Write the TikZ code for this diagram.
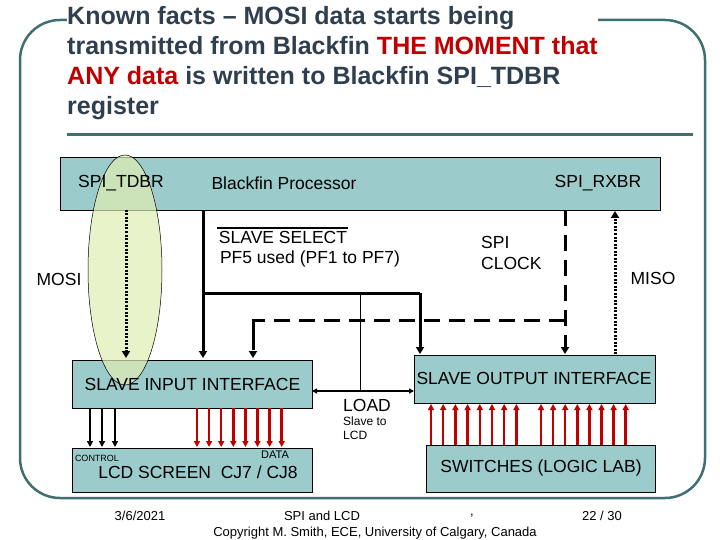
\documentclass[tikz,border=0pt]{standalone}
\usepackage{fontspec}
\setmainfont{Liberation Sans}
\usetikzlibrary{arrows.meta,shapes.geometric}
\definecolor{boxc}{HTML}{9CCBCB}
\definecolor{frm}{HTML}{3F6F6F}
\definecolor{ttl}{HTML}{2F3F4F}
\definecolor{rd}{HTML}{C00000}
\definecolor{ellc}{HTML}{E1EEB4}
\begin{document}
\begin{tikzpicture}[x=1pt,y=-1pt,
  box/.style={draw=black,fill=boxc,line width=0.8pt},
  lbl/.style={font=\fontsize{17.5}{21}\selectfont,inner sep=0pt},
  sml/.style={font=\fontsize{12}{14}\selectfont,inner sep=0pt},
  dot/.style={line width=3pt,dash pattern=on 2pt off 1.5pt,-{Triangle[length=7pt,width=8pt]}},
  sol/.style={line width=3pt},
  dsh/.style={line width=3pt,dash pattern=on 16pt off 9pt},
  tip/.style={-{Triangle[length=7pt,width=8pt]}},
  rarr/.style={draw=rd,line width=2.5pt,-{Triangle[length=6pt,width=6pt]}},
  barr/.style={draw=black,line width=2.5pt,-{Triangle[length=6pt,width=6pt]}}]
\useasboundingbox (0,0) rectangle (720,540);
\fill[white] (0,0) rectangle (720,540);
% slide frame
\draw[frm,line width=2.5pt,rounded corners=40pt] (20,20) rectangle (705,498);
\draw[frm,line width=3pt] (67,135) -- (693,135);
% title
\node[anchor=north west,align=left,inner sep=0pt,text=ttl,fill=white,font=\fontsize{25}{30}\selectfont\bfseries] (title) at (67,6)
 {Known facts -- MOSI data starts being\\transmitted from Blackfin {\color{rd}THE MOMENT that}\\{\color{rd}ANY data} is written to Blackfin SPI\_TDBR\\register};
% boxes
\node[box,minimum width=600pt,minimum height=53pt,anchor=north west,inner sep=0pt] (top) at (60,157) {};
\node[box,minimum width=240pt,minimum height=48pt,anchor=north west,inner sep=0pt] (in) at (72,360) {};
\node[box,minimum width=241pt,minimum height=48pt,anchor=north west,inner sep=0pt] (out) at (414,355) {};
\node[box,minimum width=240pt,minimum height=44pt,anchor=north west,inner sep=0pt] (lcd) at (72,448) {};
\node[box,minimum width=229pt,minimum height=47pt,anchor=north west,inner sep=0pt] (sw) at (426,445) {};
% ellipse
\node[draw=black,line width=0.5pt,fill=ellc,fill opacity=0.7,ellipse,minimum width=74pt,minimum height=230pt,inner sep=0pt] (ell) at (125,270) {};
% labels
\node[lbl] (tdbr) at (121,183) {SPI\_TDBR};
\node[lbl] (bp) at (284,183) {Blackfin Processor};
\node[lbl] (rxbr) at (598,183) {SPI\_RXBR};
\node[lbl] (ss) at (283,237) {SLAVE SELECT};
\draw[line width=1.2pt] (217,228) -- (348,228);
\node[lbl] (pf) at (310,259) {PF5 used (PF1 to PF7)};
\node[lbl,align=left,anchor=west] (clk) at (481,253) {SPI\\CLOCK};
\node[lbl] (mosi) at (59,279) {MOSI};
\node[lbl] (miso) at (653,278) {MISO};
\node[lbl] at (in) {SLAVE INPUT INTERFACE};
\node[lbl] at (534,378) {SLAVE OUTPUT INTERFACE};
\node[lbl] at (198,472) {LCD SCREEN\ \ CJ7 / CJ8};
\node[lbl] at (541,468) {SWITCHES (LOGIC LAB)};
\node[lbl] (load) at (367,405) {LOAD};
\node[sml,align=left,anchor=north west] (slv) at (343,417) {Slave to\\LCD};
\node[font=\fontsize{9}{10}\selectfont,inner sep=0pt] (ctl) at (97,458) {CONTROL};
\node[font=\fontsize{11}{12}\selectfont,inner sep=0pt] (dat) at (275,455) {DATA};
% connections
\draw[dot] (126,210) -- (126,358);
\draw[sol,tip] (203,210) -- (203,358);
\draw[sol] (203,293) -- (420,293);
\draw[sol,tip] (420,293) -- (420,354);
\draw[line width=0.6pt] (360,293) -- (360,391);
\draw[line width=1.5pt,{Triangle[length=5pt,width=5pt]}-{Triangle[length=5pt,width=5pt]}] (312,391) -- (414,391);
\draw[dsh] (565,210) -- (565,340);
\draw[line width=3pt] (565,340) -- (565,348);
\draw[sol,tip] (565,346) -- (565,354);
\draw[dsh] (565,320) -- (253,320);
\draw[line width=3pt] (253,319) -- (253,334);
\draw[dsh,tip] (253,334) -- (253,358);
\draw[dot,line width=3pt] (615,354) -- (615,211);
% black and red arrows
\foreach \x in {90,102,115} \draw[barr] (\x,408) -- (\x,447);
\foreach \i in {0,...,7} \draw[rarr] (197+12.1*\i,408) -- (197+12.1*\i,447);
\foreach \i in {0,...,7} \draw[rarr] (431+12.2*\i,445) -- (431+12.2*\i,404);
\foreach \i in {0,...,7} \draw[rarr] (541+12.1*\i,445) -- (541+12.1*\i,404);
% footer
\node[font=\fontsize{13}{14}\selectfont,inner sep=0pt] (date) at (140,516) {3/6/2021};
\node[font=\fontsize{13}{14}\selectfont,inner sep=0pt] (ftitle) at (322,516) {SPI and LCD};
\node[font=\fontsize{13}{14}\selectfont,inner sep=0pt] (comma) at (472,516) {,};
\node[font=\fontsize{13}{14}\selectfont,inner sep=0pt] (pg) at (602,516) {22 / 30};
\node[font=\fontsize{13}{14}\selectfont,inner sep=0pt] (copy) at (375,533) {Copyright M. Smith, ECE, University of Calgary, Canada};
\end{tikzpicture}
\end{document}
